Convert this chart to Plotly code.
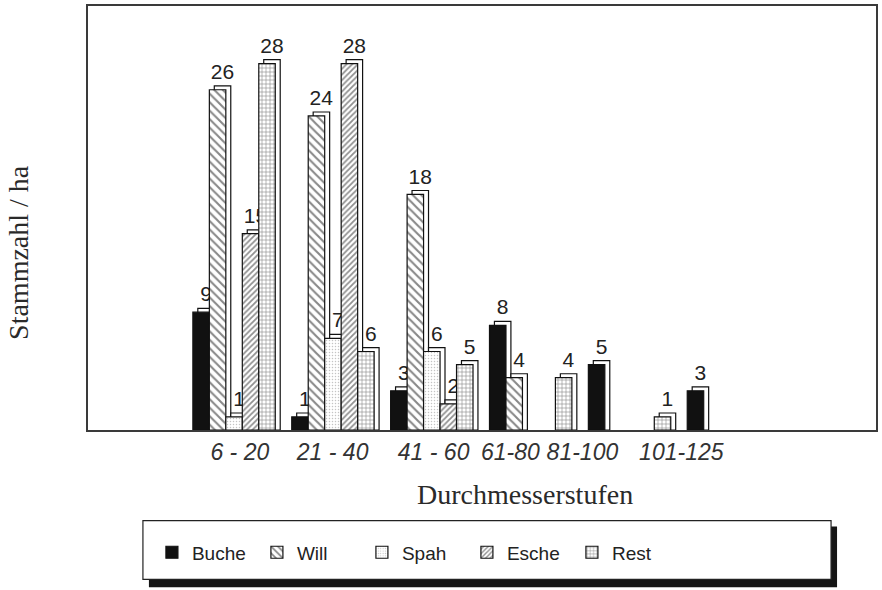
import plotly.graph_objects as go

# Diameter classes (x categories) and species
CLASSES = ["6 - 20", "21 - 40", "41 - 60", "61-80", "81-100", "101-125"]
SPECIES = ["Buche", "Will", "Spah", "Esche", "Rest"]

# Stems per hectare by species, one value per diameter class
BUCHE = [9, 1, 3, 8, 5, 3]
WILL = [26, 24, 18, 4, 0, 0]
SPAH = [1, 7, 6, 0, 0, 0]
ESCHE = [15, 28, 2, 0, 0, 0]
REST = [28, 6, 5, 4, 1, 0]

SERIES = [BUCHE, WILL, SPAH, ESCHE, REST]

# Where the class labels sit along the slot axis
TICK_POS = [2.35, 7.98, 14.11, 18.77, 23.14, 29.14]

# Fill styles per species
PATTERNS = [
    dict(color="#111111", pattern=dict(shape="")),
    dict(color="white", pattern=dict(shape="\\", size=6, solidity=0.35, fgcolor="#111111", bgcolor="white")),
    dict(color="white", pattern=dict(shape=".", size=3, solidity=0.2, fgcolor="#8a8a8a", bgcolor="white")),
    dict(color="white", pattern=dict(shape="/", size=4, solidity=0.45, fgcolor="#222222", bgcolor="white")),
    dict(color="white", pattern=dict(shape="+", size=4, solidity=0.3, fgcolor="#222222", bgcolor="white")),
]

STRIDE = 6          # 5 bar slots + 1 empty slot per class
DEPTH_X = 0.3       # pseudo-3D depth of each block
DEPTH_Y = 0.3

NUM_FONT = dict(family="Liberation Sans Narrow, Liberation Sans, sans-serif", size=21, color="#222222")

fig = go.Figure()
for s, (name, vals) in enumerate(zip(SPECIES, SERIES)):
    xs = [g * STRIDE + s for g, v in enumerate(vals) if v > 0]
    ys = [v for v in vals if v > 0]
    # back face of the block (gives the depth effect and carries the value label)
    fig.add_trace(go.Bar(
        x=[x + DEPTH_X for x in xs], y=[y + DEPTH_Y for y in ys], width=1,
        marker=dict(color="white", line=dict(color="#111111", width=1.2)),
        text=[str(y) for y in ys], textposition="outside", textfont=NUM_FONT,
        cliponaxis=False, constraintext="none",
        showlegend=False, hoverinfo="skip",
    ))
    # front face
    m = dict(PATTERNS[s])
    m["line"] = dict(color="#111111", width=1.2)
    fig.add_trace(go.Bar(
        x=xs, y=ys, width=1, name=name, marker=m,
        hovertemplate=name + ": %{y}<extra></extra>",
    ))

# legend frame with drop shadow
fig.add_shape(type="rect", xref="paper", yref="paper",
              x0=(149 - 88) / 789, x1=(838 - 88) / 789,
              y0=(430 - 588) / 426, y1=(430 - 527) / 426,
              fillcolor="#151515", line=dict(width=0), layer="above")
fig.add_shape(type="rect", xref="paper", yref="paper",
              x0=(143 - 88) / 789, x1=(832 - 88) / 789,
              y0=(430 - 580) / 426, y1=(430 - 521) / 426,
              fillcolor="white", line=dict(color="#222222", width=1.2), layer="above")

fig.add_annotation(text="Durchmesserstufen", xref="paper", yref="paper",
                   x=(526 - 88) / 789, y=(430 - 495) / 426,
                   xanchor="center", yanchor="middle", showarrow=False,
                   font=dict(family="Liberation Serif, serif", size=28, color="#2a2a2a"))
fig.add_annotation(text="Stammzahl / ha", xref="paper", yref="paper",
                   x=(19 - 88) / 789, y=(430 - 252) / 426, textangle=-90,
                   xanchor="center", yanchor="middle", showarrow=False,
                   font=dict(family="Liberation Serif, serif", size=28, color="#2a2a2a"))

fig.update_layout(
    width=882, height=590,
    margin=dict(l=88, r=5, t=4, b=160),
    paper_bgcolor="white", plot_bgcolor="white",
    barmode="overlay",
    showlegend=True,
    legend=dict(orientation="h", x=(152 - 88) / 789, xanchor="left",
                y=(430 - 553) / 426, yanchor="middle",
                bgcolor="rgba(0,0,0,0)", borderwidth=0,
                entrywidth=60, entrywidthmode="pixels", itemwidth=30,
                font=dict(family="Liberation Sans Narrow, Liberation Sans, sans-serif", size=19, color="#222222")),
    xaxis=dict(range=[-6.864, 40.955], tickvals=TICK_POS, ticktext=CLASSES,
               showgrid=False, zeroline=False, ticks="",
               showline=True, mirror=True, linecolor="#3a3a3a", linewidth=2,
               tickfont=dict(family="Liberation Sans, sans-serif", size=23, color="#333333", style="italic"),
               ticklabelstandoff=0),
    yaxis=dict(range=[0, 32.4], showticklabels=False, ticks="",
               showgrid=False, zeroline=False,
               showline=True, mirror=True, linecolor="#3a3a3a", linewidth=2),
)

fig.write_html("out.html")
